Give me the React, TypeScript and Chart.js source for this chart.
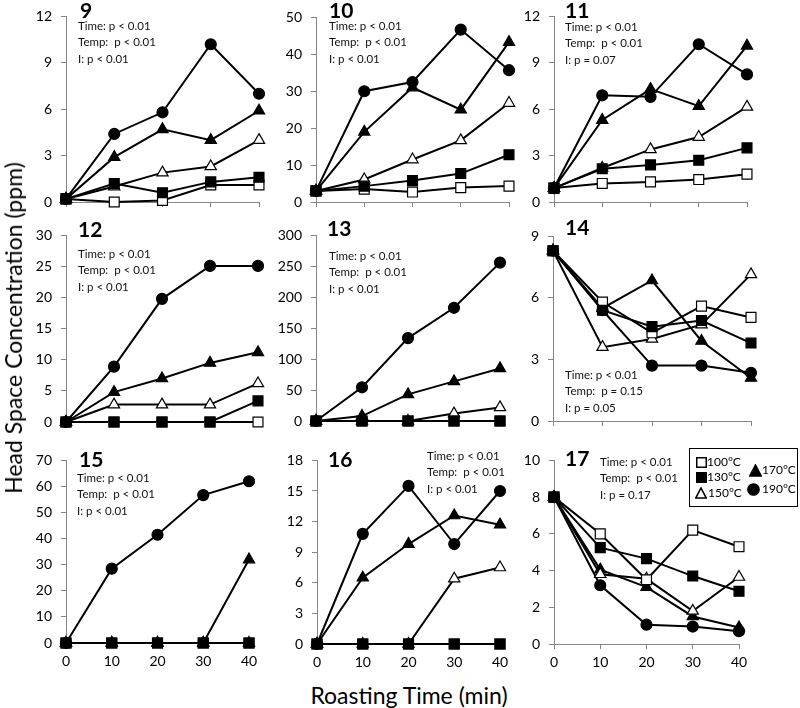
import React, { useEffect, useRef } from "react";
import { Chart, registerables } from "chart.js";

Chart.register(...registerables);

const TIMES = [0, 10, 20, 30, 40];
const TEMPS = ["100°C", "130°C", "150°C", "170°C", "190°C"];

// Panel 9
const p9_100 = [0.2, 0.0, 0.1, 1.1, 1.1];
const p9_130 = [0.2, 1.2, 0.6, 1.3, 1.6];
const p9_150 = [0.2, 1.0, 1.9, 2.3, 4.0];
const p9_170 = [0.2, 2.9, 4.7, 4.0, 5.9];
const p9_190 = [0.2, 4.4, 5.8, 10.2, 7.0];
// Panel 10
const p10_100 = [3.0, 3.5, 2.7, 3.9, 4.3];
const p10_130 = [3.0, 4.3, 5.8, 7.7, 12.8];
const p10_150 = [3.0, 6.1, 11.5, 16.7, 26.8];
const p10_170 = [3.0, 19.0, 31.0, 25.0, 43.3];
const p10_190 = [3.0, 30.0, 32.5, 46.7, 35.7];
// Panel 11
const p11_100 = [0.9, 1.2, 1.3, 1.45, 1.8];
const p11_130 = [0.9, 2.15, 2.4, 2.7, 3.5];
const p11_150 = [0.9, 2.2, 3.4, 4.2, 6.15];
const p11_170 = [0.9, 5.3, 7.3, 6.2, 10.1];
const p11_190 = [0.9, 6.9, 6.8, 10.2, 8.25];
// Panel 12
const p12_100 = [0, 0, 0, 0, 0];
const p12_130 = [0, 0, 0, 0, 3.4];
const p12_150 = [0, 2.8, 2.8, 2.8, 6.2];
const p12_170 = [0, 4.8, 7.0, 9.5, 11.2];
const p12_190 = [0, 8.9, 19.8, 25.1, 25.1];
// Panel 13
const p13_100 = [0, 0, 0, 0, 0];
const p13_130 = [0, 0, 0, 0, 0];
const p13_150 = [0, 0, 0, 12, 22];
const p13_170 = [0, 8, 43, 64, 85];
const p13_190 = [0, 54.5, 134, 183, 256];
// Panel 14
const p14_100 = [8.3, 5.8, 4.3, 5.6, 5.05];
const p14_130 = [8.3, 5.4, 4.6, 4.9, 3.8];
const p14_150 = [8.3, 3.6, 4.0, 4.7, 7.15];
const p14_170 = [8.3, 5.5, 6.85, 3.9, 2.1];
const p14_190 = [8.3, 5.4, 2.7, 2.7, 2.35];
// Panel 15
const p15_100 = [0, 0, 0, 0, 0];
const p15_130 = [0, 0, 0, 0, 0];
const p15_150 = [0, 0, 0, 0, 0];
const p15_170 = [0, 0, 0, 0, 32];
const p15_190 = [0, 28.5, 41.5, 56.7, 62];
// Panel 16
const p16_100 = [0, 0, 0, 0, 0];
const p16_130 = [0, 0, 0, 0, 0];
const p16_150 = [0, 0, 0, 6.4, 7.5];
const p16_170 = [0, 6.5, 9.8, 12.6, 11.7];
const p16_190 = [0, 10.8, 15.5, 9.8, 15.0];
// Panel 17
const p17_100 = [8.0, 6.0, 3.5, 6.2, 5.3];
const p17_130 = [8.0, 5.25, 4.65, 3.7, 2.87];
const p17_150 = [8.0, 3.8, 3.55, 1.8, 3.65];
const p17_170 = [8.0, 4.05, 3.1, 1.5, 0.9];
const p17_190 = [8.0, 3.2, 1.05, 0.95, 0.7];

const STATS_A = ["Time: p < 0.01", "Temp:  p < 0.01", "I: p < 0.01"];
const STATS_11 = ["Time: p < 0.01", "Temp:  p < 0.01", "I: p = 0.07"];
const STATS_14 = ["Time: p < 0.01", "Temp:  p = 0.15", "I: p = 0.05"];
const STATS_17 = ["Time: p < 0.01", "Temp:  p < 0.01", "I: p = 0.17"];

type PanelDef = {
  num: string;
  box: [number, number, number, number]; // left, right, top, bottom of plot area
  yMax: number;
  yStep: number;
  series: number[][]; // 100,130,150,170,190
  xLabels: boolean;
  stats: string[];
  statsPos: [number, number];
  numPos: [number, number];
};

const PANELS: PanelDef[] = [
  { num: "9", box: [66, 259, 9, 202], yMax: 12, yStep: 3, series: [p9_100, p9_130, p9_150, p9_170, p9_190], xLabels: false, stats: STATS_A, statsPos: [78, 26], numPos: [80, 10] },
  { num: "10", box: [316, 509, 10, 202], yMax: 50, yStep: 10, series: [p10_100, p10_130, p10_150, p10_170, p10_190], xLabels: false, stats: STATS_A, statsPos: [329, 26], numPos: [329, 10] },
  { num: "11", box: [554, 747, 9, 202], yMax: 12, yStep: 3, series: [p11_100, p11_130, p11_150, p11_170, p11_190], xLabels: false, stats: STATS_11, statsPos: [565, 27], numPos: [565, 10] },
  { num: "12", box: [66, 258, 228, 422], yMax: 30, yStep: 5, series: [p12_100, p12_130, p12_150, p12_170, p12_190], xLabels: false, stats: STATS_A, statsPos: [78, 254], numPos: [78, 229] },
  { num: "13", box: [316, 500, 228, 421], yMax: 300, yStep: 50, series: [p13_100, p13_130, p13_150, p13_170, p13_190], xLabels: false, stats: STATS_A, statsPos: [329, 256], numPos: [327, 228] },
  { num: "14", box: [553, 751, 229, 421], yMax: 9, yStep: 3, series: [p14_100, p14_130, p14_150, p14_170, p14_190], xLabels: false, stats: STATS_14, statsPos: [565, 375], numPos: [565, 227] },
  { num: "15", box: [66, 249, 453, 643], yMax: 70, yStep: 10, series: [p15_100, p15_130, p15_150, p15_170, p15_190], xLabels: true, stats: STATS_A, statsPos: [77, 478], numPos: [79, 459] },
  { num: "16", box: [317, 500, 453, 644], yMax: 18, yStep: 3, series: [p16_100, p16_130, p16_150, p16_170, p16_190], xLabels: true, stats: STATS_A, statsPos: [427, 456], numPos: [328, 459] },
  { num: "17", box: [554, 739, 453, 644], yMax: 10, yStep: 2, series: [p17_100, p17_130, p17_150, p17_170, p17_190], xLabels: true, stats: STATS_17, statsPos: [600, 462], numPos: [565, 458] },
];

const YW = 48;
const PADT = 10;
const PADR = 14;
const XH = 32;
const AXIS_COLOR = "#868686";
const FONT = "Lato";

const STYLE = [
  { pointStyle: "rect", radius: 7, fill: "#ffffff" },
  { pointStyle: "rect", radius: 7, fill: "#000000" },
  { pointStyle: "triangle", radius: 6.5, fill: "#ffffff" },
  { pointStyle: "triangle", radius: 6.5, fill: "#000000" },
  { pointStyle: "circle", radius: 5.5, fill: "#000000" },
];
// drawing priority: first dataset is drawn on top
const DRAW_ORDER = [1, 0, 2, 3, 4];

function Panel({ p }: { p: PanelDef }) {
  const ref = useRef<HTMLCanvasElement | null>(null);
  const [l, r, t, b] = p.box;
  const w = YW + (r - l) + PADR;
  const h = PADT + (b - t) + XH;

  useEffect(() => {
    if (!ref.current) return;
    const datasets = DRAW_ORDER.map((i) => ({
      label: TEMPS[i],
      data: TIMES.map((x, k) => ({ x, y: p.series[i][k] })),
      borderColor: "#000000",
      borderWidth: 2,
      pointStyle: STYLE[i].pointStyle as any,
      pointRadius: STYLE[i].radius,
      pointBackgroundColor: STYLE[i].fill,
      pointBorderColor: "#000000",
      pointBorderWidth: 1.2,
      tension: 0,
      clip: false as any,
    }));
    const chart = new Chart(ref.current, {
      type: "line",
      data: { datasets },
      options: {
        responsive: false,
        animation: false,
        events: [],
        layout: { padding: { top: PADT, right: PADR, left: 0, bottom: 0 } },
        plugins: { legend: { display: false }, tooltip: { enabled: false } },
        scales: {
          x: {
            type: "linear",
            min: 0,
            max: 40,
            afterFit: (s: any) => {
              s.height = XH;
            },
            ticks: {
              stepSize: 10,
              color: p.xLabels ? "#000000" : "rgba(0,0,0,0)",
              font: { family: FONT, size: 14 },
              padding: 5,
              maxRotation: 0,
            },
            grid: { drawOnChartArea: false, drawTicks: true, tickLength: 5, color: AXIS_COLOR },
            border: { color: AXIS_COLOR, width: 1 },
          },
          y: {
            type: "linear",
            min: 0,
            max: p.yMax,
            afterFit: (s: any) => {
              s.width = YW;
            },
            ticks: {
              stepSize: p.yStep,
              color: "#000000",
              font: { family: FONT, size: 14 },
              padding: 9,
            },
            grid: { drawOnChartArea: false, drawTicks: true, tickLength: 5, color: AXIS_COLOR },
            border: { color: AXIS_COLOR, width: 1 },
          },
        },
      } as any,
    });
    return () => chart.destroy();
  }, [p]);

  return (
    <canvas
      ref={ref}
      width={w}
      height={h}
      style={{ position: "absolute", left: l - YW, top: t - PADT, width: w, height: h }}
    />
  );
}

function Marker({ kind, fill, size }: { kind: string; fill: string; size: number }) {
  const s = size;
  if (kind === "rect") {
    return (
      <svg width={s} height={s} style={{ display: "block" }}>
        <rect x={0.75} y={0.75} width={s - 1.5} height={s - 1.5} fill={fill} stroke="#000" strokeWidth={1.5} />
      </svg>
    );
  }
  if (kind === "triangle") {
    return (
      <svg width={s} height={s} style={{ display: "block" }}>
        <polygon points={`${s / 2},1 ${s - 0.8},${s - 1} 0.8,${s - 1}`} fill={fill} stroke="#000" strokeWidth={1.6} strokeLinejoin="miter" />
      </svg>
    );
  }
  return (
    <svg width={s} height={s} style={{ display: "block" }}>
      <circle cx={s / 2} cy={s / 2} r={s / 2 - 0.75} fill={fill} stroke="#000" strokeWidth={1.2} />
    </svg>
  );
}

const LEGEND_ITEMS = [
  { i: 0, mx: 701, my: 462, tx: 707, size: 11 },
  { i: 1, mx: 701, my: 477, tx: 707, size: 11 },
  { i: 2, mx: 701, my: 493, tx: 708, size: 12 },
  { i: 3, mx: 755, my: 470, tx: 762, size: 13 },
  { i: 4, mx: 753, my: 489, tx: 762, size: 13 },
];

export default function App() {
  return (
    <div style={{ position: "absolute", left: 0, top: 0, width: 800, height: 708, background: "#fff", overflow: "hidden", fontFamily: FONT }}>
      {PANELS.map((p) => (
        <Panel key={p.num} p={p} />
      ))}
      {PANELS.map((p) => (
        <div
          key={"n" + p.num}
          style={{ position: "absolute", left: p.numPos[0], top: p.numPos[1] - 11, fontSize: 21, lineHeight: "22px", fontWeight: 700, color: "#000" }}
        >
          {p.num}
        </div>
      ))}
      {PANELS.map((p) => (
        <div
          key={"s" + p.num}
          style={{ position: "absolute", left: p.statsPos[0], top: p.statsPos[1] - 8.5, fontSize: 11.5, lineHeight: "16.8px", color: "#111", whiteSpace: "pre" }}
        >
          {p.stats.map((s, k) => (
            <div key={k}>{s}</div>
          ))}
        </div>
      ))}
      <div style={{ position: "absolute", left: 689, top: 448, width: 109, height: 59, border: "1px solid #000", boxSizing: "border-box", background: "#fff" }} />
      {LEGEND_ITEMS.map((it) => (
        <React.Fragment key={"l" + it.i}>
          <div style={{ position: "absolute", left: it.mx - it.size / 2, top: it.my - it.size / 2 }}>
            <Marker kind={STYLE[it.i].pointStyle} fill={STYLE[it.i].fill} size={it.size} />
          </div>
          <div style={{ position: "absolute", left: it.tx, top: it.my - 8, fontSize: 12, lineHeight: "16px", color: "#000", whiteSpace: "nowrap" }}>
            {TEMPS[it.i]}
          </div>
        </React.Fragment>
      ))}
      <div
        style={{ position: "absolute", left: 409, top: 695, transform: "translate(-50%, -50%)", fontSize: 23, lineHeight: "26px", whiteSpace: "nowrap", color: "#000" }}
      >
        Roasting Time (min)
      </div>
      <div
        style={{ position: "absolute", left: 13, top: 328, transform: "translate(-50%, -50%) rotate(-90deg)", fontSize: 23, lineHeight: "26px", whiteSpace: "nowrap", color: "#000" }}
      >
        Head Space Concentration (ppm)
      </div>
    </div>
  );
}
